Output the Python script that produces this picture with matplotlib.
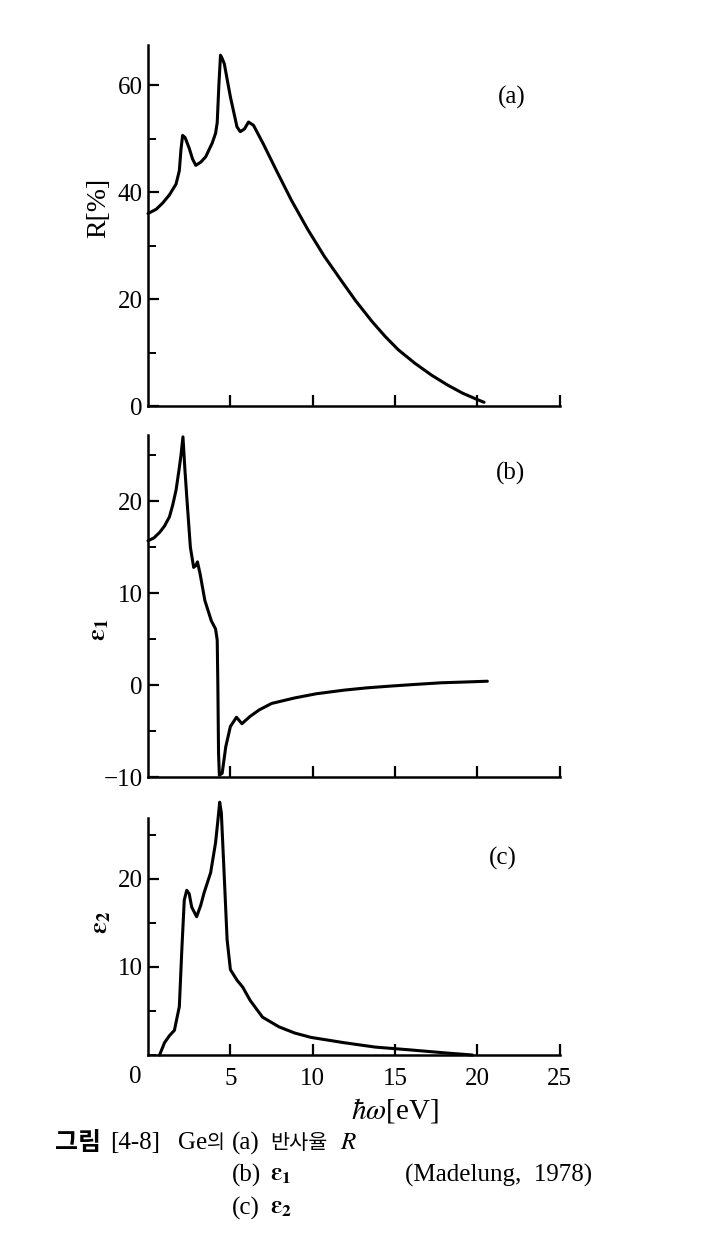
import matplotlib
matplotlib.use('Agg')
import matplotlib.pyplot as plt
from matplotlib.ticker import MultipleLocator, FixedLocator

plt.rcParams['font.family'] = ['Liberation Serif', 'Noto Sans CJK KR']
plt.rcParams['mathtext.fontset'] = 'stix'

# (a) 반사율 R [%]
energy_a = [0, 0.5, 0.9, 1.3, 1.7, 1.9, 2.0, 2.1, 2.25, 2.5, 2.7, 2.9, 3.2, 3.5, 3.9, 4.1, 4.2, 4.3, 4.4,
            4.5, 4.63, 5.0, 5.4, 5.6, 5.85, 6.1, 6.4, 7.0, 7.8, 8.7, 9.7, 10.7, 11.7, 12.6, 13.6,
            14.4, 15.2, 16.2, 17.2, 18.2, 19.1, 20.0, 20.4]
refl_a = [36, 36.8, 38, 39.5, 41.5, 44, 48, 50.6, 50.2, 48.2, 46.2, 45, 45.6, 46.6, 49.2, 51, 53,
          60, 65.6, 65, 64, 57.8, 52.2, 51.3, 51.8, 53.1, 52.5, 49, 44, 38.5, 33, 28, 23.6, 19.7, 15.8,
          13, 10.5, 8, 5.8, 3.9, 2.4, 1.2, 0.7]

# (b) ε1
energy_b = [0, 0.35, 0.7, 1.0, 1.3, 1.5, 1.7, 1.88, 2.0, 2.12, 2.24, 2.37, 2.57, 2.77, 2.9, 3.0, 3.16,
            3.45, 3.84, 4.1, 4.2, 4.24, 4.28, 4.33, 4.5, 4.72, 5.0, 5.37, 5.7, 6.2, 6.75, 7.5, 8.9,
            10.2, 11.9, 13.3, 14.8, 16.3, 17.8, 19.2, 20.6]
eps1_b = [15.7, 16.0, 16.6, 17.3, 18.3, 19.6, 21.2, 23.4, 25.0, 27.0, 23.4, 20, 15, 12.8, 13.0, 13.4,
          12.1, 9.2, 7.0, 6.1, 4.9, -0.2, -7.4, -9.8, -9.6, -6.7, -4.5, -3.5, -4.2, -3.4, -2.7, -2.0,
          -1.4, -0.95, -0.55, -0.3, -0.1, 0.08, 0.25, 0.33, 0.42]

# (c) ε2
energy_c = [0.7, 1.0, 1.3, 1.6, 1.9, 2.05, 2.2, 2.35, 2.5, 2.65, 2.95, 3.2, 3.4, 3.8, 4.1, 4.25, 4.35,
            4.45, 4.6, 4.8, 5.0, 5.4, 5.75, 6.2, 6.95, 7.95, 8.9, 9.9, 11.9, 13.8, 15.8, 18.0, 19.7]
eps2_c = [0, 1.4, 2.2, 2.8, 5.5, 11.9, 17.6, 18.7, 18.3, 16.8, 15.7, 17.0, 18.4, 20.7, 24.1, 26.8, 28.7,
          27.5, 21.4, 13.1, 9.7, 8.5, 7.7, 6.2, 4.3, 3.2, 2.5, 2.0, 1.4, 0.9, 0.6, 0.25, 0]

x_ticks = [5, 10, 15, 20, 25]

fig = plt.figure(figsize=(7.1, 12.44), dpi=100)

ax_a = fig.add_axes([0.2085, 0.6736, 0.580, 0.2902])
ax_b = fig.add_axes([0.2085, 0.3754, 0.580, 0.2749])
ax_c = fig.add_axes([0.2085, 0.1519, 0.580, 0.1905])

line_kw = dict(color='black', linewidth=2.2, solid_joinstyle='round', solid_capstyle='round', clip_on=False)
ax_a.plot(energy_a, refl_a, **line_kw)
ax_b.plot(energy_b, eps1_b, **line_kw)
ax_c.plot(energy_c, eps2_c, **line_kw)

ax_a.set_ylim(0, 67.5)
ax_b.set_ylim(-10, 27.2)
ax_c.set_ylim(0, 26.9)

for ax in (ax_a, ax_b, ax_c):
    ax.set_xlim(0, 25)
    for s in ('top', 'right'):
        ax.spines[s].set_visible(False)
    for s in ('left', 'bottom'):
        ax.spines[s].set_linewidth(1.8)
    ax.xaxis.set_major_locator(FixedLocator(x_ticks))
    ax.yaxis.set_minor_locator(MultipleLocator(10 if ax is ax_a else 5))
    ax.tick_params(axis='both', which='major', direction='in', length=8, width=1.6,
                   labelsize=18, pad=4)
    ax.tick_params(axis='y', which='minor', direction='in', length=6, width=1.4)
    ax.tick_params(axis='x', which='major', pad=9)

ax_a.set_yticks([0, 20, 40, 60])
ax_b.set_yticks([-10, 0, 10, 20])
ax_b.set_yticklabels(['\u221210', '0', '10', '20'])
ax_c.set_yticks([10, 20])
ax_a.tick_params(axis='x', labelbottom=False)
ax_b.tick_params(axis='x', labelbottom=False)
ax_c.text(-0.032, -0.093, '0', transform=ax_c.transAxes, ha='center', va='center', fontsize=18)

# 축 라벨
ax_a.text(-0.12, 0.55, 'R[%]', transform=ax_a.transAxes, rotation=90, ha='center', va='center', fontsize=20)
ax_b.text(-0.117, 0.43, r'$\mathbf{\varepsilon_1}$', transform=ax_b.transAxes, rotation=90,
          ha='center', va='center', fontsize=19)
ax_c.text(-0.112, 0.56, r'$\mathbf{\varepsilon_2}$', transform=ax_c.transAxes, rotation=90,
          ha='center', va='center', fontsize=19)
ax_c.text(0.60, -0.232, r'$\hbar\omega$[eV]', transform=ax_c.transAxes, ha='center', va='center', fontsize=21)

# 패널 표시
ax_a.text(0.883, 0.856, '(a)', transform=ax_a.transAxes, ha='center', va='center', fontsize=18)
ax_b.text(0.879, 0.889, '(b)', transform=ax_b.transAxes, ha='center', va='center', fontsize=18)
ax_c.text(0.862, 0.831, '(c)', transform=ax_c.transAxes, ha='center', va='center', fontsize=18)

# 그림 설명
cap = dict(ha='left', va='center', fontsize=18)
kor = dict(ha='left', va='center', family=['Noto Sans CJK KR'])
fig.text(55 / 710, 0.0812, '그림', fontweight='bold', fontsize=18, **kor)
fig.text(110 / 710, 0.0812, '[4-8]', **cap)
fig.text(178 / 710, 0.0812, 'Ge', **cap)
fig.text(207 / 710, 0.0812, '의', fontsize=14, **kor)
fig.text(232 / 710, 0.0812, '(a)', **cap)
fig.text(270 / 710, 0.0812, '반사율', fontsize=15, **kor)
fig.text(340 / 710, 0.0812, r'$R$', **cap)
fig.text(232 / 710, 0.0555, '(b)', **cap)
fig.text(270 / 710, 0.0555, r'$\mathbf{\varepsilon_1}$', **cap)
fig.text(405 / 710, 0.0555, '(Madelung,  1978)', **cap)
fig.text(232 / 710, 0.0289, '(c)', **cap)
fig.text(270 / 710, 0.0289, r'$\mathbf{\varepsilon_2}$', **cap)

fig.savefig('out.png', dpi=100)
